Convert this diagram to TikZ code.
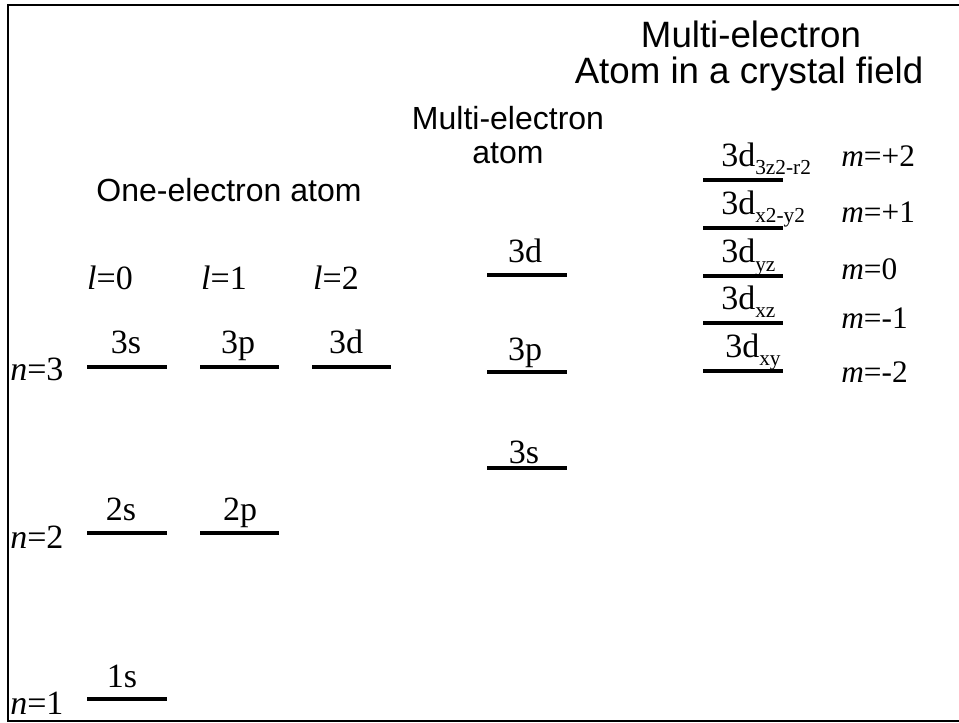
\documentclass[tikz,border=0pt]{standalone}
\usepackage{fontspec}
\setmainfont{Liberation Serif}
\setsansfont{Liberation Sans}
\newcommand\sbs[1]{\raisebox{-6pt}{\fontsize{16}{16}\selectfont #1}}
\begin{document}
\begin{tikzpicture}[x=0.75pt,y=-0.75pt,
  lvl/.style={line width=2.5pt},
  frame/.style={line width=1.7pt},
  lab/.style={inner sep=0pt,anchor=base,font=\fontsize{25.5}{30}\selectfont},
  labw/.style={lab,anchor=base west},
  mlab/.style={labw,font=\fontsize{23.5}{28}\selectfont},
  ttl/.style={inner sep=0pt,anchor=base,font=\sffamily\fontsize{24}{28}\selectfont},
  ttlbig/.style={ttl,font=\sffamily\fontsize{27.5}{32}\selectfont}]
\useasboundingbox (0,0) rectangle (959,723);
\clip (0,0) rectangle (959,723);
\coordinate (fTR) at (975,5);
\coordinate (fTL) at (8,5);
\coordinate (fBL) at (8,721);
\coordinate (fBR) at (975,721);
\draw[frame] (fTR) -- (fTL) -- (fBL) -- (fBR);
% titles
\node[ttlbig] (t1a) at (751,48) {Multi-electron};
\node[ttlbig] (t1b) at (749,84) {Atom in a crystal field};
\node[ttl] (t2a) at (508,130) {Multi-electron};
\node[ttl] (t2b) at (508,164) {atom};
\node[ttl] (t3) at (229,202) {One-electron atom};
% one-electron atom
\node[lab] (l0) at (110,290) {\textit{l}=0};
\node[lab] (l1) at (224,290) {\textit{l}=1};
\node[lab] (l2) at (336,290) {\textit{l}=2};
\node[labw] (n3) at (10,380) {\textit{n}=3};
\node[labw] (n2) at (10,548) {\textit{n}=2};
\node[labw] (n1) at (10,714) {\textit{n}=1};
\draw[lvl] (87,367) -- (167,367);
\draw[lvl] (200,367) -- (279,367);
\draw[lvl] (312,367) -- (391,367);
\draw[lvl] (87,533) -- (167,533);
\draw[lvl] (200,533) -- (279,533);
\draw[lvl] (87,699) -- (167,699);
\node[lab] (s3) at (126,353) {3s};
\node[lab] (p3) at (238,353) {3p};
\node[lab] (d3) at (346,353) {3d};
\node[lab] (s2) at (121,520) {2s};
\node[lab] (p2) at (240,520) {2p};
\node[lab] (s1) at (122,687) {1s};
% multi-electron atom
\draw[lvl] (487,275) -- (567,275);
\draw[lvl] (487,372) -- (567,372);
\draw[lvl] (487,468) -- (567,468);
\node[lab] (md) at (525,263) {3d};
\node[lab] (mp) at (525,360) {3p};
\node[lab] (ms) at (524,463) {3s};
% crystal field
\draw[lvl] (703,180) -- (783,180);
\draw[lvl] (703,228) -- (783,228);
\draw[lvl] (703,276) -- (783,276);
\draw[lvl] (703,323) -- (783,323);
\draw[lvl] (703,371) -- (783,371);
\node[labw] (c1) at (721,167) {3d\sbs{3z2-r2}};
\node[labw] (c2) at (721,215) {3d\sbs{x2-y2}};
\node[labw] (c3) at (721,263) {3d\sbs{yz}};
\node[labw] (c4) at (721,310) {3d\sbs{xz}};
\node[labw] (c5) at (725,357) {3d\sbs{xy}};
\node[mlab] (m1) at (841,167) {\textit{m}=+2};
\node[mlab] (m2) at (841,223) {\textit{m}=+1};
\node[mlab] (m3) at (841,280) {\textit{m}=0};
\node[mlab] (m4) at (841,328) {\textit{m}=-1};
\node[mlab] (m5) at (841,382) {\textit{m}=-2};
\end{tikzpicture}
\end{document}
